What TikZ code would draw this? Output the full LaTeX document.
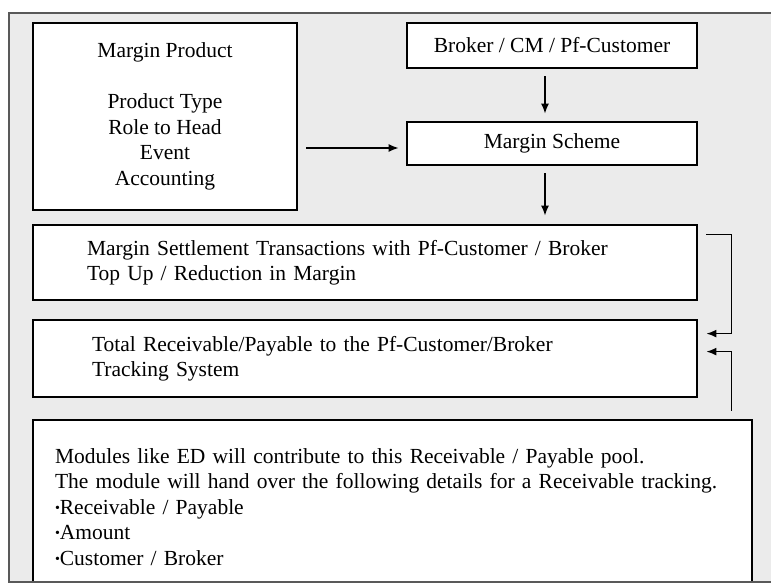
\documentclass[tikz,border=0pt]{standalone}
\usepackage{fontspec}
\setmainfont{Liberation Serif}
\usetikzlibrary{
    arrows.meta,
    positioning
}
\tikzset{
    box/.style={draw=black, line width=2.8pt, fill=white, inner sep=0pt,
        font=\fontsize{21.5}{25.5}\selectfont},
    link/.style={line width=1.5pt, ->},
}
\newcommand{\blt}{{\fontsize{14}{14}\selectfont\raisebox{2pt}{•}}}

\begin{document}
\begin{tikzpicture}[x=1pt, y=-1pt, >={Latex[length=10pt,width=8pt]}]
                                \useasboundingbox (0, 0) rectangle (771, 583);
                                \fill[black!8] (9, 13) rectangle (790, 582);
                                \node[box, minimum width=264pt, minimum height=187pt, align=center] (prod) at (165, 116.5)
                                    {Margin Product\\[25.5pt]Product Type\\Role to Head\\Event\\Accounting};
                                \node[box, minimum width=290pt, minimum height=45pt] (broker) at (552, 45.5) {Broker / CM / Pf-Customer};
                                \node[box, minimum width=290pt, minimum height=43pt] (scheme) at (552, 143.5) {Margin Scheme};
                                \node[box, inner xsep=54pt, text width=556pt, minimum height=75pt, align=left] (settle) at (365, 262.5)
                                    {Margin Settlement Transactions with Pf-Customer / Broker\\Top Up / Reduction in Margin};
                                \node[box, inner xsep=59pt, text width=546pt, minimum height=77pt, align=left] (total) at (365, 358.5)
                                    {Total Receivable/Payable to the Pf-Customer/Broker\\Tracking System};
                                \node[box, inner xsep=22pt, text width=675pt, minimum height=174pt, align=left] (modules) at (392.5, 507)
                                    {Modules like ED will contribute to this Receivable / Payable pool.\\
                                     The module will hand over the following details for a Receivable tracking.\\
                                     \blt Receivable / Payable\\\blt Amount\\\blt Customer / Broker};
                                \coordinate (up) at ([xshift=-22pt, yshift=8pt]modules.north east);
                                \draw[link] ([xshift=8pt]prod.east |- 0, 148) -- ([xshift=-7pt]scheme.west |- 0, 148);
                                \draw[link] ([xshift=-7pt, yshift=-7pt]broker.south) -- ([xshift=-7pt, yshift=7pt]scheme.north);
                                \draw[link] ([xshift=-7pt, yshift=-7pt]scheme.south) -- ([xshift=-7pt, yshift=8pt]settle.north -| scheme.south);
                                \draw[link] ([xshift=8pt, yshift=-11pt]settle.north east) -- ++(25, 0) |- ([xshift=8pt, yshift=-15pt]total.north east);
                                \draw[link] (up) |- ([xshift=8pt, yshift=-33pt]total.north east);
                                \draw[black!65, line width=1.2pt] (790, 13) -- (9, 13) -- (9, 582) -- (790, 582);
                            \end{tikzpicture}
\end{document}
